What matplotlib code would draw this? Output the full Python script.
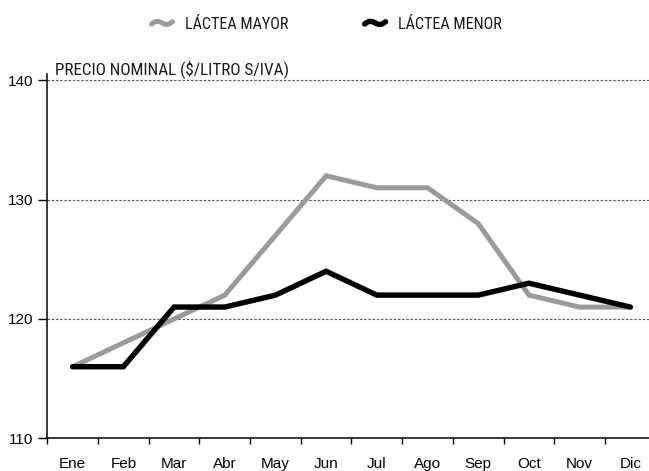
import numpy as np
import matplotlib
matplotlib.use("Agg")
import matplotlib.pyplot as plt
from matplotlib.lines import Line2D
from matplotlib.legend_handler import HandlerBase

# Monthly nominal prices ($/litre, excl. VAT)
months = ["Ene", "Feb", "Mar", "Abr", "May", "Jun",
          "Jul", "Ago", "Sep", "Oct", "Nov", "Dic"]
lactea_mayor = [116, 118, 120, 122, 127, 132, 131, 131, 128, 122, 121, 121]
lactea_menor = [116, 116, 121, 121, 122, 124, 122, 122, 122, 123, 122, 121]
y_ticks = [110, 120, 130, 140]

GRAY = "#9a9a9c"
BLACK = "#000000"
NARROW = ["Roboto Condensed", "DejaVu Sans"]
plt.rcParams["font.family"] = ["Liberation Sans", "DejaVu Sans"]


class WaveHandler(HandlerBase):
    """Legend key drawn as a short thick wave."""
    def create_artists(self, legend, orig_handle, xdescent, ydescent,
                       width, height, fontsize, trans):
        t = np.linspace(0, 1, 40)
        x = -xdescent + t * width
        y = -ydescent + height / 2 + np.sin(t * 2 * np.pi) * height * 0.18 \
            - (0.5 - t) * height * 0.2
        ln = Line2D(x, y, color=orig_handle.get_color(),
                    lw=orig_handle.get_linewidth(),
                    solid_capstyle="round", solid_joinstyle="round",
                    transform=trans)
        return [ln]


fig = plt.figure(figsize=(6.49, 4.71), dpi=100)
ax = fig.add_axes([47.3 / 649, 32.7 / 471, 608.4 / 649, 364.6 / 471])

x = np.arange(len(months))
l1, = ax.plot(x, lactea_mayor, color=GRAY, lw=3.6,
              solid_joinstyle="miter", solid_capstyle="round", zorder=3)
l2, = ax.plot(x, lactea_menor, color=BLACK, lw=3.9,
              solid_joinstyle="miter", solid_capstyle="round", zorder=4)

ax.set_xlim(-0.5, len(months) - 0.5)
ax.set_ylim(110, 140.56)

# category boundaries carry the tick marks, centres carry the labels
ax.set_xticks(np.arange(len(months) + 1) - 0.5)
ax.set_xticklabels([])
ax.set_xticks(x, minor=True)
ax.set_xticklabels(months, minor=True, fontsize=11)
ax.tick_params(axis="x", which="major", direction="out", length=4.5,
               width=1.0, color="black")
ax.tick_params(axis="x", which="minor", length=0, pad=13.5)

ax.set_yticks(y_ticks)
ax.set_yticklabels([str(v) for v in y_ticks], fontsize=11)
ax.tick_params(axis="y", direction="out", length=6.5, width=1.0, pad=3.5)

for v in y_ticks[1:]:
    ax.axhline(v, color="#555555", lw=0.8, ls=(0, (2.2, 1.6)), zorder=1)

for side in ("top", "right"):
    ax.spines[side].set_visible(False)
for side in ("left", "bottom"):
    ax.spines[side].set_linewidth(1.1)
    ax.spines[side].set_color("black")

ax.annotate("PRECIO NOMINAL ($/LITRO S/IVA)", xy=(-0.5, 140),
            xytext=(5.5, 1.5), textcoords="offset points",
            ha="left", va="bottom", fontsize=12.3, family=NARROW,
            fontstretch="condensed", color="#1a1a1a", annotation_clip=False)

fig.legend([l1, l2], ["LÁCTEA MAYOR", "LÁCTEA MENOR"],
           handler_map={Line2D: WaveHandler()},
           loc="center", bbox_to_anchor=(0.5035, 0.949), ncol=2,
           frameon=False,
           prop={"family": NARROW, "size": 11.6, "stretch": "condensed"},
           handlelength=1.3, handletextpad=0.78, columnspacing=4.72,
           labelcolor="#1a1a1a")

fig.savefig("out.png", dpi=100)
